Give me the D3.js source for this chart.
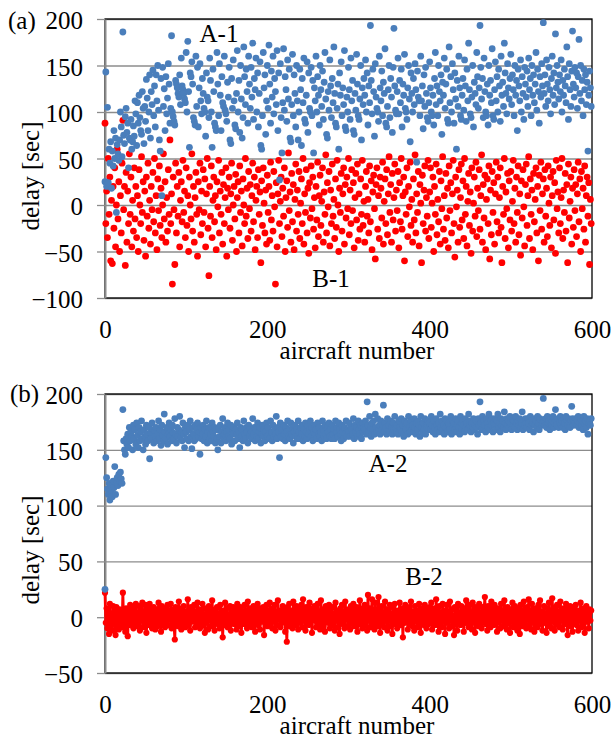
<!DOCTYPE html>
<html>
<head>
<meta charset="utf-8">
<script src="https://cdn.jsdelivr.net/npm/d3@7"></script>
<style>
  body { margin: 0; background: #fff; }
  svg { display: block; }
  svg text { font-family: "Liberation Serif", "Times New Roman", Times, "DejaVu Serif", serif !important; fill: #000; }
</style>
</head>
<body>
<svg id="chart" width="613" height="740"></svg>
<script>
// TICKS
const xTicks = [0, 200, 400, 600];
const yTicksA = [-100, -50, 0, 50, 100, 150, 200];
const yTicksB = [-50, 0, 50, 100, 150, 200];

// (a) A-1 delays, aircraft 0..599
const delayA1 = [
  25,143,20,105,24,60,45,68,18,58,42,80,50,72,-8,65,55,48,70,100,
  84,52,186,75,66,95,104,78,88,40,72,70,92,60,68,85,74,112,98,64,
  110,88,118,94,80,76,122,104,66,106,90,135,115,80,100,140,72,122,108,145,
  96,128,84,140,112,150,102,70,58,136,10,148,106,125,80,138,98,115,152,130,
  88,104,182,100,95,90,86,134,130,126,120,116,140,108,158,128,124,120,114,110,
  164,100,176,122,62,142,138,154,130,94,90,86,160,106,148,84,126,152,112,98,
  136,120,104,100,74,142,116,112,94,158,134,100,62,146,122,88,84,80,164,130,
  96,152,118,80,138,110,106,160,102,98,90,132,116,148,70,66,136,104,156,112,
  86,82,120,166,100,134,78,150,114,72,94,170,138,108,146,122,88,160,130,104,
  148,116,174,92,136,124,158,100,142,84,120,154,64,60,96,164,126,140,76,112,
  150,104,172,130,88,144,116,160,98,136,122,108,166,80,142,27,152,94,56,110,
  168,102,138,124,90,156,114,146,72,68,108,162,96,140,120,84,150,112,70,100,
  146,124,64,136,110,158,92,88,118,154,78,142,104,100,148,96,134,56,126,112,
  160,100,138,118,86,150,124,106,144,92,132,164,114,76,72,122,102,156,128,94,
  136,110,170,120,88,84,104,130,60,142,118,154,96,126,108,166,84,80,116,100,
  148,124,92,158,112,134,80,76,120,102,162,130,96,92,114,150,70,126,108,136,
  118,156,100,142,86,128,110,193,134,98,146,122,74,152,116,104,100,90,160,126,
  112,144,96,132,120,168,88,84,106,124,150,94,136,116,78,148,190,128,102,98,
  122,158,98,134,110,146,84,130,118,162,104,100,92,126,150,114,68,142,120,100,
  136,108,152,124,46,144,116,112,96,160,112,128,82,140,106,148,120,94,90,110,
  154,126,100,96,118,86,136,164,108,128,96,150,122,112,140,76,132,118,158,104,
  130,146,92,88,170,110,138,100,152,124,88,142,114,60,134,106,160,126,96,92,
  118,136,102,156,128,90,146,112,174,124,98,94,116,150,84,132,120,108,164,138,
  104,126,193,148,114,136,94,158,122,100,96,130,86,150,118,134,110,168,96,92,
  124,154,112,138,100,146,128,90,160,118,132,106,174,142,120,98,152,126,114,136,
  162,108,140,124,96,150,118,134,80,146,128,112,156,100,138,120,92,148,130,116,
  144,106,158,124,136,96,150,118,140,110,130,164,102,146,122,88,138,116,152,128,
  196,120,140,106,156,130,112,148,124,98,136,160,118,142,108,184,126,150,132,114,
  140,122,156,100,134,118,146,128,110,170,138,92,152,124,106,144,187,130,116,148,
  126,142,104,138,178,120,150,112,134,96,146,124,140,108,132,58,118,144,126,106
];

// (a) B-1 delays
const delayB1 = [
  88,-20,15,-35,50,-10,30,-60,5,-63,20,-25,40,-45,0,60,-15,25,-50,10,
  -30,45,91,-5,20,-65,35,-40,15,-20,55,-10,30,-45,5,-28,40,-15,20,-35,
  10,-50,38,0,-20,52,-8,25,-38,15,-55,30,-12,45,-25,5,-42,20,-5,35,
  -18,50,-30,10,-48,28,-6,42,-22,18,-35,0,55,-15,25,-40,8,-28,38,-10,
  70,-20,12,-85,30,-5,-64,45,-30,20,-12,35,-45,5,25,-18,48,-8,15,-35,
  40,-22,10,-50,30,0,-15,55,-28,20,-40,8,35,-10,-55,25,-5,45,-32,15,
  -20,38,-8,28,-45,12,50,-25,-76,20,-12,42,-35,5,30,-18,10,-48,25,-2,
  48,-30,15,-10,35,-42,22,-20,8,40,-55,18,-5,30,-25,12,45,-38,0,20,
  -15,33,-50,8,25,-30,42,-8,15,-44,28,0,-20,50,-12,18,-36,36,-4,22,
  -28,10,45,-18,30,-48,5,20,-35,38,-10,14,-62,26,-22,40,2,-30,16,-42,
  32,-8,20,-38,46,-16,10,-28,36,-2,-85,24,-45,12,48,-20,4,30,-34,18,
  -12,40,-50,8,26,-24,56,-6,14,-40,34,-18,22,-48,6,44,-28,16,-10,36,
  -36,2,28,-20,50,-42,12,-8,38,-30,18,-52,24,-14,42,-4,30,-26,8,-46,
  20,-16,46,-34,10,32,-22,4,40,-40,14,-10,54,-30,24,-2,36,-44,16,-20,
  44,-12,6,-36,28,-24,48,0,-50,18,-8,34,-28,12,40,-42,22,-14,30,-4,
  50,-32,16,-20,38,-6,24,-46,8,34,-16,44,-38,12,-26,28,-10,48,-22,4,
  -40,20,36,-12,6,-30,42,-18,26,-48,14,32,-4,-58,22,40,-26,10,-36,30,
  18,-14,46,-42,4,28,-20,38,-32,12,52,-8,22,-40,34,-16,8,44,-28,16,
  -6,36,-46,24,-18,50,-26,10,30,-60,14,-10,40,-34,20,-2,46,-22,6,-40,
  28,-16,54,-30,12,-8,36,-44,22,2,-62,32,-20,16,42,-28,8,-12,48,-36,
  14,40,-24,2,30,-50,20,-10,44,-32,6,-18,36,-42,26,-4,52,-26,10,-38,
  34,-14,18,-46,42,-6,24,-30,12,48,-20,-56,30,-2,16,-40,38,-24,8,44,
  -16,26,-36,50,-10,20,-44,4,34,-22,14,-52,40,-28,2,30,-12,46,-34,18,
  -6,38,-26,10,54,-40,22,-14,32,-48,6,28,-20,42,-58,16,-32,36,-8,24,
  -42,12,46,-18,30,-30,8,40,-24,-62,20,-10,50,-36,14,-4,34,-46,26,-16,
  36,-28,4,48,-20,18,-40,30,-8,42,-32,12,-54,26,-14,38,-2,-44,22,44,
  -22,10,52,-36,28,-10,16,-48,34,-18,6,40,-30,20,-60,32,-6,46,-26,12,
  28,-40,38,-12,18,-34,42,2,-22,30,-46,10,36,-16,24,-52,48,-4,14,-30,
  40,-20,8,50,-36,16,-8,34,-28,22,-62,44,-14,4,30,-42,18,-24,38,-6,
  22,-34,12,46,-18,28,-50,36,-4,18,-26,42,-40,10,30,-12,24,-64,6,-20
];

// (b) A-2 delays
const delayA2 = [
  25,143,125,115,110,120,105,118,112,108,122,116,135,110,120,125,118,128,122,130,
  124,120,186,158,150,146,160,155,164,152,170,158,166,162,150,172,160,168,155,174,
  163,152,170,158,166,176,160,150,168,162,155,172,164,158,170,142,165,160,174,168,
  156,166,162,170,158,164,176,160,168,154,172,163,158,182,166,160,170,155,164,174,
  162,168,158,172,165,160,178,164,156,170,162,168,180,160,166,158,174,164,152,170,
  166,160,172,158,168,176,162,151,170,164,158,172,160,168,174,162,166,146,170,160,
  164,172,158,168,162,176,156,166,170,160,164,158,174,166,162,170,156,168,160,150,
  168,162,172,156,166,178,160,164,170,158,166,174,162,168,160,172,155,166,164,170,
  158,168,164,174,160,166,152,170,162,168,158,176,164,160,170,166,156,172,162,168,
  166,160,178,164,170,158,168,162,174,160,166,170,156,164,172,162,168,158,166,174,
  162,170,164,160,176,166,158,172,162,168,164,180,160,170,166,143,174,162,168,160,
  172,164,158,170,166,176,162,168,160,174,164,170,156,166,172,162,168,160,176,166,
  160,170,164,172,158,168,162,174,166,160,172,164,168,176,162,170,158,166,172,164,
  168,160,174,164,170,162,166,158,176,168,162,172,164,160,170,166,174,162,168,160,
  172,164,168,160,176,166,170,162,174,168,164,158,172,166,160,170,164,176,162,168,
  166,174,162,170,168,164,178,160,172,166,170,162,176,168,164,172,160,174,166,170,
  168,176,164,193,172,166,180,170,162,174,168,176,164,182,170,166,178,168,172,164,
  176,168,172,190,166,174,170,164,178,168,172,166,176,170,164,174,168,180,170,166,
  172,164,176,170,168,178,166,172,162,176,170,168,174,164,180,170,166,176,168,172,
  166,178,170,164,174,168,176,172,162,180,170,166,174,168,178,164,172,170,176,168,
  174,168,180,172,166,176,170,164,178,172,168,174,166,182,170,176,168,172,164,178,
  170,176,166,174,172,168,180,164,176,170,174,168,178,166,172,176,170,164,180,174,
  168,176,172,166,178,170,174,168,182,172,176,166,174,170,178,168,172,176,170,164,
  178,172,193,174,168,180,170,176,172,166,178,174,170,182,168,176,172,178,166,174,
  172,178,168,176,182,170,174,166,178,172,176,170,184,174,168,178,172,176,170,180,
  174,168,178,172,176,170,180,174,168,176,172,178,170,174,184,168,176,172,178,174,
  170,178,174,168,180,176,172,174,166,178,172,176,170,180,174,168,178,176,172,174,
  196,176,172,178,170,180,174,176,168,178,172,176,180,170,174,186,176,172,178,170,
  174,180,172,176,170,178,174,168,180,176,172,178,174,170,176,189,178,172,176,174,
  178,172,176,180,170,174,178,172,176,168,180,174,176,170,178,164,174,176,172,178
];

// (b) B-2 delays
const delayB2 = [
  22,-5,8,-10,5,-15,12,-8,3,-12,10,-3,6,-16,9,-6,2,-11,7,-4,
  4,-9,22,-6,1,-13,8,-2,-17,5,-7,11,-4,0,9,-10,6,-3,12,-8,
  3,-6,10,-12,7,-1,13,-9,4,-5,11,-14,2,8,-7,12,-3,6,-10,1,
  9,-4,-11,7,2,-8,13,-2,5,-13,10,-6,1,8,-9,4,-3,11,-7,6,
  -2,12,-10,3,7,-5,-20,9,-1,6,-8,14,-4,2,-11,8,-6,10,0,-9,
  5,-3,16,-7,2,-12,9,-4,6,-1,11,-9,4,-6,13,-2,7,-10,3,-5,
  12,-7,1,-14,8,-3,6,-11,10,-2,4,-8,15,-5,0,-12,7,-4,9,-6,
  3,-10,11,-1,6,-18,5,-7,13,-3,8,-9,2,-5,10,-12,4,-1,9,-6,
  -2,7,-11,12,-4,3,-8,9,-14,5,0,-6,11,-3,6,-10,14,-1,-7,8,
  4,-9,2,10,-5,-13,7,-2,12,-7,3,-11,8,-4,1,9,-16,6,-3,11,
  -8,5,-1,13,-6,2,-10,8,-3,11,-12,4,-7,15,-2,6,-9,3,-5,10,
  -1,7,-13,4,-22,9,-4,12,-8,2,6,-10,14,-3,5,-7,10,-1,-11,8,
  3,-5,11,-9,16,-2,6,-12,9,-4,1,-7,13,-6,4,-14,8,-1,10,-3,
  -9,5,12,-6,2,-11,15,-4,7,-8,3,-13,10,-2,6,-5,11,-10,4,-1,
  9,-7,2,-12,13,-3,6,-9,1,-15,8,-4,11,-6,3,-10,14,-2,5,-8,
  7,-1,-11,10,-5,2,12,-8,4,-3,9,-13,6,-6,15,-2,1,-10,8,-4,
  11,-7,5,-12,20,-3,8,-9,3,16,-5,1,-11,13,-4,6,-8,18,-2,-14,
  4,10,-6,2,-9,14,-3,7,-12,5,-1,11,-8,3,-15,9,-4,12,-6,1,
  -10,6,-3,13,-7,2,8,-18,4,-5,11,-2,7,-11,3,9,-6,14,-1,-8,
  5,-12,10,-3,6,-9,2,12,-5,-14,8,-1,4,-7,11,-4,-10,7,2,-6,
  9,-3,13,-11,5,-2,8,-7,16,-4,1,-13,10,-6,3,-9,12,-1,6,-15,
  4,11,-5,2,-10,14,-3,7,-8,1,-16,9,-2,5,-12,12,-4,3,-7,10,
  -1,6,-13,8,-5,15,-2,4,-9,11,-6,2,-11,13,-3,7,-14,9,-1,5,
  -8,12,-4,3,-10,9,-2,6,18,-6,1,-12,10,-4,7,-9,14,-3,2,-7,
  11,-5,4,-13,8,-1,6,-10,12,-3,3,-8,15,-6,1,-11,9,-2,5,-14,
  7,-4,13,-9,2,10,-6,4,-12,8,-1,-15,11,-3,6,-8,14,-5,3,-10,
  9,-2,16,-7,1,-11,12,-4,6,-13,8,-1,3,-9,11,-6,15,-3,5,-12,
  4,10,-5,2,-14,8,-3,13,-8,1,-10,17,-2,6,-12,9,-4,11,-7,3,
  -9,14,-1,5,-11,8,-6,2,12,-3,-16,7,-2,10,-8,4,-13,9,-5,1,
  11,-7,3,-12,6,-2,13,-9,4,-6,8,-14,1,10,-4,5,-10,7,-3,6
];

const FONT = '"Liberation Serif", "Times New Roman", Times, "DejaVu Serif", serif';
const BLUE = '#4a7ebb';
const RED = '#ff0000';
const GRID = '#8c8c8c';

const svg = d3.select('#chart').attr('font-family', FONT);
svg.append('rect').attr('width', 613).attr('height', 740).attr('fill', '#fff');

const margin = { left: 105, right: 592 };
const plotW = margin.right - margin.left;

function drawPanel(p) {
    const x = d3.scaleLinear().domain([0, 600]).range([margin.left, margin.right]);
    const y = d3.scaleLinear().domain(p.yDomain).range([p.bottom, p.top]);
    const g = svg.append('g').attr('font-family', FONT);

    //GRIDLINES
    g.append('g')
        .attr('transform', `translate(${margin.left},0)`)
        .call(d3.axisLeft(y).tickValues(p.yTicks).tickSize(-plotW).tickFormat(''))
        .call(a => a.select('.domain').remove())
        .selectAll('line').attr('stroke', GRID).attr('stroke-width', 1.3);

    //FRAME
    g.append('rect')
        .attr('x', margin.left).attr('y', p.top)
        .attr('width', plotW).attr('height', p.bottom - p.top)
        .attr('fill', 'none').attr('stroke', '#000').attr('stroke-width', 1.3);

    //Y AXIS
    const yAxisG = g.append('g')
        .attr('transform', `translate(${margin.left},0)`)
        .call(d3.axisLeft(y).tickValues(p.yTicks).tickSize(8).tickSizeOuter(0).tickPadding(14));
    yAxisG.attr('font-family', FONT).attr('font-size', 25);
    yAxisG.select('.domain').attr('stroke', GRID).attr('stroke-width', 2);
    yAxisG.selectAll('line').attr('stroke', GRID).attr('stroke-width', 1.3);
    yAxisG.selectAll('text').attr('dy', '0.38em');

    //X AXIS
    const xAxisG = g.append('g')
        .attr('transform', `translate(0,${p.bottom})`)
        .call(d3.axisBottom(x).tickValues(xTicks).tickSize(0).tickPadding(22));
    xAxisG.attr('font-family', FONT).attr('font-size', 25);
    xAxisG.select('.domain').remove();

    //LABELS
    g.append('text')
        .attr('x', 357).attr('y', p.bottom + 61)
        .attr('text-anchor', 'middle').attr('font-size', 25)
        .text('aircraft number');

    g.append('text')
        .attr('transform', `translate(39,${p.yLabelY}) rotate(-90)`)
        .attr('text-anchor', 'middle').attr('font-size', 25)
        .text('delay [sec]');

    g.append('text')
        .attr('x', p.tagX).attr('y', p.tagY)
        .attr('font-size', 25)
        .text(p.tag);

    //DATA
    const dataG = g.append('g');
    if (p.lineB) {
        dataG.append('path')
            .datum(p.seriesB)
            .attr('fill', 'none').attr('stroke', RED).attr('stroke-width', 2.8)
            .attr('stroke-linejoin', 'round')
            .attr('d', d3.line().x((d, i) => x(i)).y(d => y(d)));
    }
    dataG.append('g').selectAll('circle')
        .data(p.seriesB)
        .join('circle')
        .attr('cx', (d, i) => x(i)).attr('cy', d => y(d))
        .attr('r', p.lineB ? 3.1 : 3.4).attr('fill', RED);

    dataG.append('g').selectAll('circle')
        .data(p.seriesA)
        .join('circle')
        .attr('cx', (d, i) => x(i)).attr('cy', d => y(d))
        .attr('r', 3.4).attr('fill', BLUE);

    //SERIES NAMES
    p.names.forEach(n => {
        g.append('text')
            .attr('x', n.x).attr('y', n.y)
            .attr('text-anchor', 'middle').attr('font-size', 25)
            .text(n.text);
    });
}

drawPanel({
    tag: '(a)', tagX: 8, tagY: 29,
    top: 19, bottom: 298, yDomain: [-100, 200], yTicks: yTicksA,
    yLabelY: 176,
    seriesA: delayA1, seriesB: delayB1, lineB: false,
    names: [{ text: 'A-1', x: 219, y: 42 }, { text: 'B-1', x: 331, y: 287 }]
});

drawPanel({
    tag: '(b)', tagX: 10, tagY: 402,
    top: 394, bottom: 673, yDomain: [-50, 200], yTicks: yTicksB,
    yLabelY: 550,
    seriesA: delayA2, seriesB: delayB2, lineB: true,
    names: [{ text: 'A-2', x: 388, y: 472 }, { text: 'B-2', x: 424, y: 585 }]
});
</script>
</body>
</html>
